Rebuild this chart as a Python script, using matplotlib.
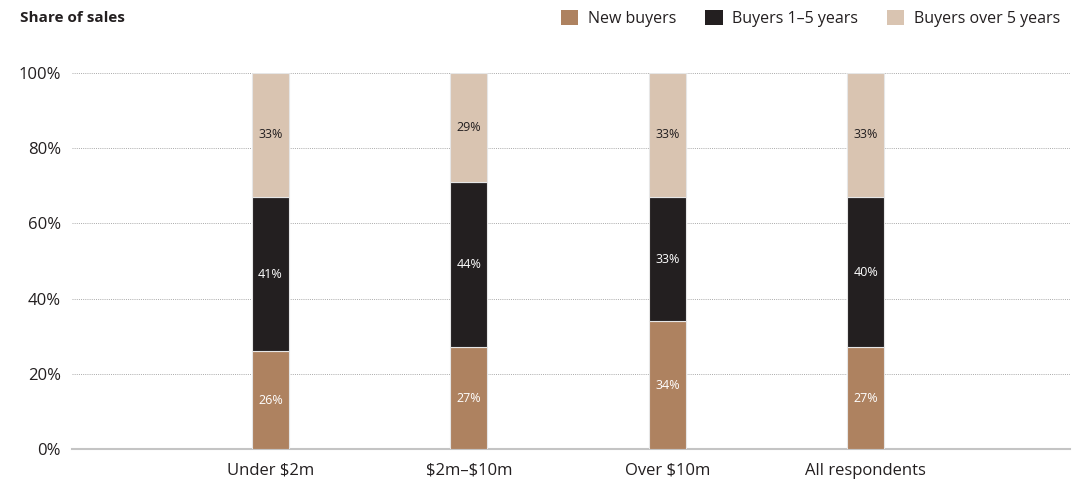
import matplotlib
matplotlib.use("Agg")
import matplotlib.pyplot as plt
from matplotlib.patches import Patch
import numpy as np

categories = ["Under $2m", "$2m–$10m", "Over $10m", "All respondents"]
new_buyers = [26, 27, 34, 27]
buyers_1_5 = [41, 44, 33, 40]
buyers_over5 = [33, 29, 33, 33]
series_names = ["New buyers", "Buyers 1–5 years", "Buyers over 5 years"]
colors = ["#ae8260", "#231f20", "#d9c4b1"]
label_colors = ["white", "white", "#231f20"]
yticks = [0, 20, 40, 60, 80, 100]

plt.rcParams['font.family'] = ['Open Sans', 'DejaVu Sans']
plt.rcParams['text.parse_math'] = False

fig = plt.figure(figsize=(10.91, 4.83), dpi=100)
ax = fig.add_axes([0.066, 0.0704, 0.915, 0.7786])

x = np.arange(len(categories))
width = 0.187
bottom = np.zeros(len(categories))
for vals, c, lc in zip([new_buyers, buyers_1_5, buyers_over5], colors, label_colors):
    vals = np.array(vals, dtype=float)
    ax.bar(x, vals, width, bottom=bottom, color=c, edgecolor="#e6e6e6", linewidth=0.8, zorder=3)
    for xi, b, v in zip(x, bottom, vals):
        ax.text(xi, b + v / 2, f"{int(v)}%", ha="center", va="center", color=lc, fontsize=9, zorder=4)
    bottom += vals

ax.set_xlim(-1.0, 4.03)
ax.set_ylim(0, 100)
ax.set_yticks(yticks)
ax.set_yticklabels([f"{t}%" for t in yticks], fontsize=12, color="#231f20")
ax.set_xticks(x)
ax.set_xticklabels(categories, fontsize=12, color="#231f20")
ax.tick_params(axis="both", length=0)
ax.tick_params(axis="y", pad=8)
ax.tick_params(axis="x", pad=10)
for s in ax.spines.values():
    s.set_visible(False)
for t in yticks[1:]:
    ax.axhline(t, color="#aaaaaa", linewidth=0.7, linestyle=(0, (1, 1.2)), zorder=1)
ax.axhline(0, color="#c4c4c4", linewidth=1.5, zorder=2, clip_on=False)

fig.text(0.018, 0.962, "Share of sales", fontsize=11, fontweight="bold", color="#231f20", va="center")

handles = [Patch(facecolor=c, edgecolor="none") for c in colors]
fig.legend(handles, series_names, loc="center right", bbox_to_anchor=(0.985, 0.962), ncol=3,
           frameon=False, fontsize=11.5, handlelength=1.1, handleheight=1.1,
           handletextpad=0.6, columnspacing=1.8, labelcolor="#231f20")

fig.savefig("out.png", dpi=100, facecolor="white")
